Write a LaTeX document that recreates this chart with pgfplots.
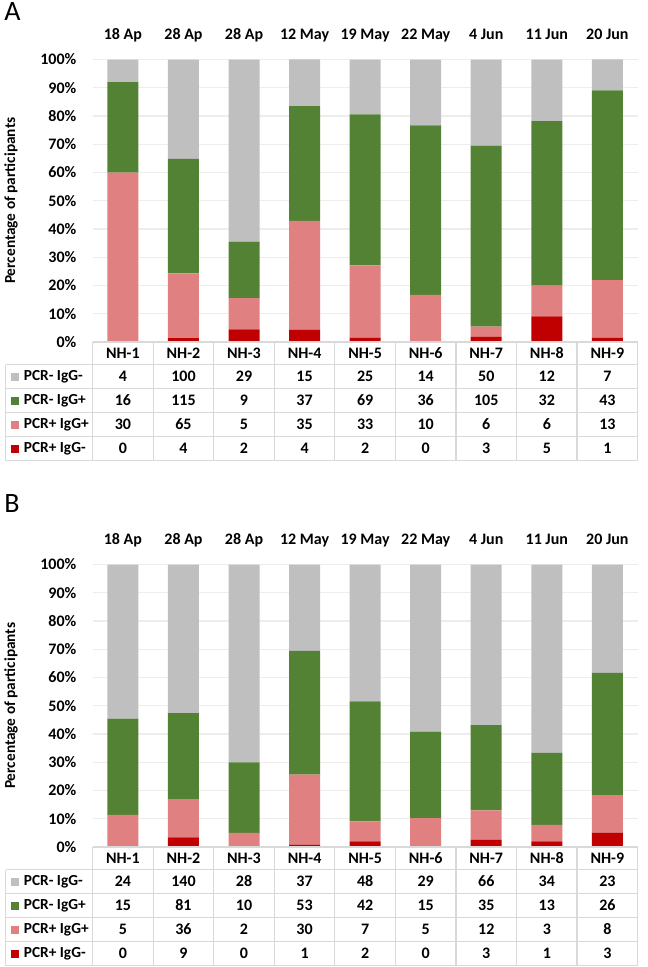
\documentclass[border=0pt]{standalone}
\usepackage{pgfplots}
\pgfplotsset{compat=1.18}
\usepackage{pgfplotstable}
\usepackage{fontspec}
\setmainfont{Carlito}
\definecolor{cgrey}{HTML}{BFBFBF}
\definecolor{cgreen}{HTML}{548235}
\definecolor{cpink}{HTML}{E08080}
\definecolor{cred}{HTML}{C00000}
\definecolor{gridc}{HTML}{EDEDED}
\definecolor{tlinec}{HTML}{D9D9D9}

% counts (nn = PCR- IgG-, np = PCR- IgG+, pp = PCR+ IgG+, pn = PCR+ IgG-) and their percentages
\pgfplotstableread{
x date site nn np pp pn Pnn Pnp Ppp Ppn
0 {18 Ap} NH-1 4 16 30 0 8 32 60 0
1 {28 Ap} NH-2 100 115 65 4 35.211 40.493 22.887 1.408
2 {28 Ap} NH-3 29 9 5 2 64.444 20.000 11.111 4.444
3 {12 May} NH-4 15 37 35 4 16.484 40.659 38.462 4.396
4 {19 May} NH-5 25 69 33 2 19.380 53.488 25.581 1.550
5 {22 May} NH-6 14 36 10 0 23.333 60.000 16.667 0
6 {4 Jun} NH-7 50 105 6 3 30.488 64.024 3.659 1.829
7 {11 Jun} NH-8 12 32 6 5 21.818 58.182 10.909 9.091
8 {20 Jun} NH-9 7 43 13 1 10.938 67.188 20.313 1.563
}\tabA

\pgfplotstableread{
x date site nn np pp pn Pnn Pnp Ppp Ppn
0 {18 Ap} NH-1 24 15 5 0 54.545 34.091 11.364 0
1 {28 Ap} NH-2 140 81 36 9 52.632 30.451 13.534 3.383
2 {28 Ap} NH-3 28 10 2 0 70 25 5 0
3 {12 May} NH-4 37 53 30 1 30.579 43.802 24.793 0.826
4 {19 May} NH-5 48 42 7 2 48.485 42.424 7.071 2.020
5 {22 May} NH-6 29 15 5 0 59.184 30.612 10.204 0
6 {4 Jun} NH-7 66 35 12 3 56.897 30.172 10.345 2.586
7 {11 Jun} NH-8 34 13 3 1 66.667 25.490 5.882 1.961
8 {20 Jun} NH-9 23 26 8 3 38.333 43.333 13.333 5
}\tabB

\newcommand\tfont{\bfseries\fontsize{11.5}{13}\selectfont}
\newcommand\nfont{\bfseries\fontsize{12}{14}\selectfont}

\pgfplotsset{panel/.style={
  scale only axis, width=408.75pt, height=211.875pt,
  anchor=south west,
  ybar stacked, bar width=23.25pt,
  xmin=-0.5, xmax=8.5, ymin=0, ymax=100,
  xtick=\empty,
  ytick={0,10,...,100},
  /pgf/number format/assume math mode=true,
  yticklabel={\pgfmathprintnumber{\tick}\%},
  yticklabel style={font=\nfont, anchor=east, inner sep=0pt, xshift=-12pt},
  ymajorgrids, grid style={draw=gridc, line width=0.8pt},
  axis line style={draw=none},
  major tick length=0pt,
  clip=false,
}}

% #1 table, #2 y of axis bottom (px), #3 y of axis top (px)
\newcommand\drawtable[3]{%
  \begin{scope}[x=0.75pt,y=-0.75pt]
    \draw[tlinec, line width=0.9pt] (90,#2) -- (635,#2);
    \foreach \r in {22.5,46.5,70.5,94.5,118.5}
      \draw[tlinec, line width=0.9pt] (3,#2+\r) -- (635,#2+\r);
    \draw[tlinec, line width=0.9pt] (3,#2+22.5) -- (3,#2+118.5);
    \foreach \k in {0,...,9}
      \draw[tlinec, line width=0.9pt] ({90+60.5556*\k},#2) -- ({90+60.5556*\k},#2+118.5);
    \foreach \i in {0,...,8} {
      \node[font=\nfont, anchor=base] at ({90+60.5556*(\i+0.5)},#3-20) {\pgfplotstablegetelem{\i}{date}\of#1\pgfplotsretval};
      \node[font=\nfont] at ({90+60.5556*(\i+0.5)},#2+11.25) {\pgfplotstablegetelem{\i}{site}\of#1\pgfplotsretval};
      \node[font=\nfont] at ({90+60.5556*(\i+0.5)},#2+34.5) {\pgfplotstablegetelem{\i}{nn}\of#1\pgfplotsretval};
      \node[font=\nfont] at ({90+60.5556*(\i+0.5)},#2+58.5) {\pgfplotstablegetelem{\i}{np}\of#1\pgfplotsretval};
      \node[font=\nfont] at ({90+60.5556*(\i+0.5)},#2+82.5) {\pgfplotstablegetelem{\i}{pp}\of#1\pgfplotsretval};
      \node[font=\nfont] at ({90+60.5556*(\i+0.5)},#2+106.5) {\pgfplotstablegetelem{\i}{pn}\of#1\pgfplotsretval};
    }
    \fill[cgrey] (8.5,#2+30.5) rectangle (16.5,#2+38.5);
    \fill[cgreen] (8.5,#2+54.5) rectangle (16.5,#2+62.5);
    \fill[cpink] (8.5,#2+78.5) rectangle (16.5,#2+86.5);
    \fill[cred] (8.5,#2+102.5) rectangle (16.5,#2+110.5);
    \node[font=\tfont, anchor=west, inner sep=0pt] at (21,#2+34.5) {PCR- IgG-};
    \node[font=\tfont, anchor=west, inner sep=0pt] at (21,#2+58.5) {PCR- IgG+};
    \node[font=\tfont, anchor=west, inner sep=0pt] at (21,#2+82.5) {PCR+ IgG+};
    \node[font=\tfont, anchor=west, inner sep=0pt] at (21,#2+106.5) {PCR+ IgG-};
    \node[font=\tfont, rotate=90] at (8.5,{(#2+#3)/2}) {Percentage of participants};
  \end{scope}}

\begin{document}
\begin{tikzpicture}
\begin{scope}[x=0.75pt,y=-0.75pt]
\useasboundingbox (0,0) rectangle (645,967);
\node[font=\fontsize{21}{24}\selectfont, anchor=base west, inner sep=0pt] at (1.5,20) {A};
\node[font=\fontsize{21}{24}\selectfont, anchor=base west, inner sep=0pt] at (1.5,512) {B};
\end{scope}

\begin{axis}[panel, at={(67.5pt,-256.5pt)}]
\addplot[fill=cred, draw=none] table[x=x, y=Ppn]{\tabA};
\addplot[fill=cpink, draw=none] table[x=x, y=Ppp]{\tabA};
\addplot[fill=cgreen, draw=none] table[x=x, y=Pnp]{\tabA};
\addplot[fill=cgrey, draw=none] table[x=x, y=Pnn]{\tabA};
\end{axis}
\drawtable{\tabA}{342}{59.5}

\begin{axis}[panel, at={(67.5pt,-635.25pt)}]
\addplot[fill=cred, draw=none] table[x=x, y=Ppn]{\tabB};
\addplot[fill=cpink, draw=none] table[x=x, y=Ppp]{\tabB};
\addplot[fill=cgreen, draw=none] table[x=x, y=Pnp]{\tabB};
\addplot[fill=cgrey, draw=none] table[x=x, y=Pnn]{\tabB};
\end{axis}
\drawtable{\tabB}{847}{564.5}
\end{tikzpicture}
\end{document}
